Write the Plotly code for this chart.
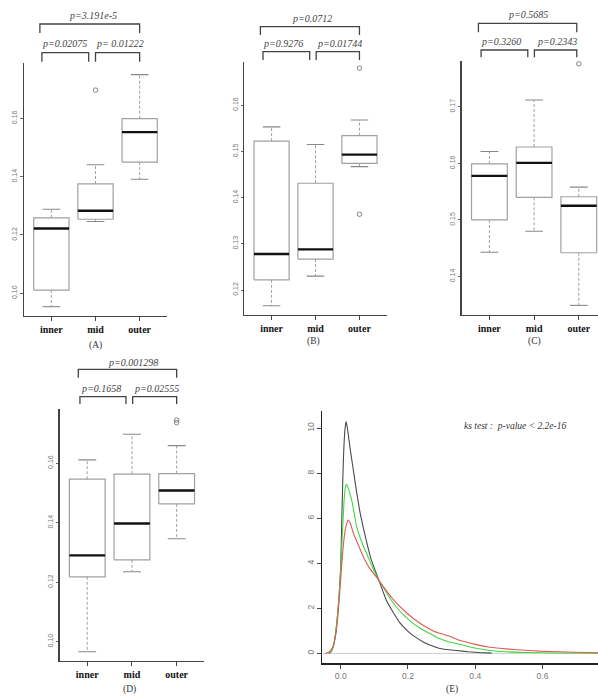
import plotly.graph_objects as go

W, H = 598, 698

categories = ["inner", "mid", "outer"]

# box statistics per panel: [lower whisker, Q1, median, Q3, upper whisker] for inner, mid, outer
A_stats = [[0.0954, 0.1011, 0.1222, 0.1259, 0.1288],
           [0.1246, 0.1254, 0.1283, 0.1375, 0.1441],
           [0.1391, 0.1450, 0.1553, 0.1599, 0.1750]]
A_out_x = [2]
A_out_y = [0.1697]

B_stats = [[0.1166, 0.1222, 0.1278, 0.1522, 0.1553],
           [0.1230, 0.1267, 0.1288, 0.1431, 0.1515],
           [0.1467, 0.1474, 0.1493, 0.1534, 0.1568]]
B_out_x = [3, 3]
B_out_y = [0.1364, 0.1680]

C_stats = [[0.1443, 0.1500, 0.1578, 0.1599, 0.1621],
           [0.1480, 0.1540, 0.1601, 0.1629, 0.1712],
           [0.1349, 0.1442, 0.1525, 0.1541, 0.1558]]
C_out_x = [3]
C_out_y = [0.1776]

D_stats = [[0.0966, 0.1218, 0.1290, 0.1546, 0.1611],
           [0.1235, 0.1275, 0.1397, 0.1563, 0.1697],
           [0.1346, 0.1463, 0.1508, 0.1565, 0.1659]]
D_out_x = [3, 3]
D_out_y = [0.1745, 0.1736]

# p-values: [inner-outer, inner-mid, mid-outer]
A_p = ["p=3.191e-5", "p=0.02075", "p= 0.01222"]
B_p = ["p=0.0712", "p=0.9276", "p=0.01744"]
C_p = ["p=0.5685", "p=0.3260", "p=0.2343"]
D_p = ["p=0.001298", "p=0.1658", "p=0.02555"]

# density curves (panel E)
black_x = [-0.035, -0.03, -0.022, -0.015, -0.01, -0.005, 0.0, 0.003, 0.006, 0.009, 0.013, 0.016,
           0.02, 0.028, 0.035, 0.047, 0.057, 0.067, 0.077, 0.09, 0.111, 0.136, 0.155, 0.175,
           0.2, 0.216, 0.244, 0.265, 0.295, 0.343, 0.38, 0.42, 0.449]
black_y = [0.0, 0.05, 0.3, 0.9, 1.6, 2.5, 3.8, 5.8, 7.6, 9.0, 10.0, 10.3,
           10.0, 9.1, 8.4, 7.2, 6.3, 5.6, 4.95, 4.2, 3.35, 2.35, 1.85, 1.38,
           0.98, 0.79, 0.52, 0.37, 0.22, 0.13, 0.07, 0.03, 0.01]

green_x = [-0.035, -0.03, -0.022, -0.015, -0.01, -0.005, 0.0, 0.004, 0.008, 0.011, 0.015, 0.018,
           0.022, 0.033, 0.0475, 0.065, 0.077, 0.095, 0.111, 0.13, 0.1465, 0.166, 0.186, 0.21,
           0.236, 0.26, 0.285, 0.32, 0.35, 0.394, 0.44, 0.493, 0.55, 0.64, 0.77]
green_y = [0.0, 0.05, 0.3, 0.9, 1.6, 2.5, 3.7, 5.0, 6.2, 7.0, 7.45, 7.5,
           7.35, 6.8, 5.63, 4.85, 4.44, 3.8, 3.3, 2.85, 2.45, 2.05, 1.72, 1.4,
           1.12, 0.92, 0.72, 0.52, 0.42, 0.25, 0.14, 0.07, 0.04, 0.015, 0.01]

red_x = [-0.045, -0.035, -0.025, -0.015, -0.01, -0.005, 0.0, 0.005, 0.01, 0.015, 0.022, 0.028,
         0.0375, 0.05, 0.067, 0.085, 0.111, 0.13, 0.156, 0.185, 0.216, 0.245, 0.275, 0.3,
         0.32, 0.354, 0.4, 0.444, 0.5, 0.55, 0.592, 0.65, 0.7, 0.77]
red_y = [0.0, 0.05, 0.25, 0.8, 1.4, 2.3, 3.3, 4.3, 5.1, 5.6, 5.92, 5.8,
         5.35, 4.9, 4.3, 3.8, 3.3, 2.9, 2.4, 1.95, 1.55, 1.25, 1.0, 0.87,
         0.78, 0.58, 0.4, 0.27, 0.19, 0.14, 0.1, 0.07, 0.05, 0.03]

ks_text = "ks test :  p-value < 2.2e-16"

SERIF = "Liberation Serif"
SANS = "Liberation Sans"

def py(p):
    return 1 - p / H

# panel layout: pixel domains, ranges, ticks, bracket geometry
panels = [
    dict(name="A", stats=A_stats, ox=A_out_x, oy=A_out_y, p=A_p,
         xd=(24, 167), yd=(63.3, 316), xr=(0.38, 3.62), yr=(0.0922, 0.1789),
         yt=[0.10, 0.12, 0.14, 0.16], ytt=["0.10", "0.12", "0.14", "0.16"],
         top=(0.74, 3.0, 24, 33), left=(0.786, 1.846, 52.7, 61.7), right=(2.0, 3.0, 52.7, 61.7),
         ptop=(1.94, 16), pl=(1.30, 43.3), pr=(2.56, 43.3), lab=(2.0, 345)),
    dict(name="B", stats=B_stats, ox=B_out_x, oy=B_out_y, p=B_p,
         xd=(244.3, 386.7), yd=(61.7, 315), xr=(0.38, 3.62), yr=(0.1146, 0.1694),
         yt=[0.12, 0.13, 0.14, 0.15, 0.16], ytt=["0.12", "0.13", "0.14", "0.15", "0.16"],
         top=(0.746, 3.0, 26.7, 35), left=(0.806, 1.868, 51.7, 60), right=(2.016, 3.0, 51.7, 60),
         ptop=(1.92, 18.3), pl=(1.27, 43.3), pr=(2.54, 43.3), lab=(1.95, 341.7)),
    dict(name="C", stats=C_stats, ox=C_out_x, oy=C_out_y, p=C_p,
         xd=(461.7, 598), yd=(61, 315), xr=(0.38, 3.43), yr=(0.1332, 0.1781),
         yt=[0.14, 0.15, 0.16, 0.17], ytt=["0.14", "0.15", "0.16", "0.17"],
         top=(0.754, 2.955, 23.3, 32.3), left=(0.814, 1.859, 50, 57.3), right=(2.007, 2.955, 50, 57.3),
         ptop=(1.86, 15), pl=(1.26, 41.7), pr=(2.51, 41.7), lab=(2.0, 341.7)),
    dict(name="D", stats=D_stats, ox=D_out_x, oy=D_out_y, p=D_p,
         xd=(59.5, 204.4), yd=(409.3, 660.7), xr=(0.38, 3.62), yr=(0.0936, 0.1781),
         yt=[0.10, 0.12, 0.14, 0.16], ytt=["0.10", "0.12", "0.14", "0.16"],
         top=(0.80, 3.0, 369.3, 377.7), left=(0.837, 1.866, 396.7, 404), right=(2.016, 3.0, 396.7, 404),
         ptop=(2.016, 362), pl=(1.30, 388.5), pr=(2.54, 388.5), lab=(1.95, None)),
]

fig = go.Figure()
shapes = []
annotations = []
layout_axes = {}

BOX_COL = "#a0a0a0"
AX_COL = "#444444"

for i, pn in enumerate(panels):
    n = i + 1
    xa = "x" if n == 1 else f"x{n}"
    ya = "y" if n == 1 else f"y{n}"
    rx, ry, wx, wy, cx, cy, mx, my = [], [], [], [], [], [], [], []
    for j, s in enumerate(pn["stats"]):
        lo, q1, med, q3, hi = s
        x = j + 1
        rx += [x - 0.4, x + 0.4, x + 0.4, x - 0.4, x - 0.4, None]
        ry += [q1, q1, q3, q3, q1, None]
        wx += [x, x, None, x, x, None]
        wy += [q3, hi, None, q1, lo, None]
        cx += [x - 0.2, x + 0.2, None, x - 0.2, x + 0.2, None]
        cy += [hi, hi, None, lo, lo, None]
        mx += [x - 0.4, x + 0.4, None]
        my += [med, med, None]
    fig.add_trace(go.Scatter(x=wx, y=wy, mode="lines", xaxis=xa, yaxis=ya,
                             line=dict(color=BOX_COL, width=1, dash="3px,2px"), hoverinfo="skip"))
    fig.add_trace(go.Scatter(x=cx, y=cy, mode="lines", xaxis=xa, yaxis=ya,
                             line=dict(color="#888888", width=1.1), hoverinfo="skip"))
    fig.add_trace(go.Scatter(x=rx, y=ry, mode="lines", xaxis=xa, yaxis=ya,
                             line=dict(color=BOX_COL, width=1.2), hoverinfo="skip"))
    fig.add_trace(go.Scatter(x=mx, y=my, mode="lines", xaxis=xa, yaxis=ya,
                             line=dict(color="#111111", width=2.4), hoverinfo="skip"))
    fig.add_trace(go.Scatter(x=pn["ox"], y=pn["oy"], mode="markers", xaxis=xa, yaxis=ya,
                             marker=dict(symbol="circle-open", size=4.5, color="#777777",
                                         line=dict(width=0.9)), hoverinfo="skip"))

    layout_axes["xaxis" if n == 1 else f"xaxis{n}"] = dict(
        domain=[pn["xd"][0] / W, min(pn["xd"][1] / W, 1.0)], range=list(pn["xr"]), anchor=ya,
        showline=True, linecolor=AX_COL, linewidth=1.3, ticks="outside", ticklen=4,
        tickcolor=AX_COL, tickwidth=1, tickvals=[1, 2, 3],
        ticktext=[f"<b>{c}</b>" for c in categories],
        tickfont=dict(family=SERIF, size=10, color="#111111"),
        showgrid=False, zeroline=False, fixedrange=True)
    layout_axes["yaxis" if n == 1 else f"yaxis{n}"] = dict(
        domain=[py(pn["yd"][1]), py(pn["yd"][0])], range=list(pn["yr"]), anchor=xa,
        showline=True, linecolor=AX_COL, linewidth=1.3, ticks="outside", ticklen=2.5,
        tickcolor="#666666", tickwidth=1, tickvals=pn["yt"], ticktext=pn["ytt"], tickangle=-90,
        tickfont=dict(family=SANS, size=7, color="#777777"),
        showgrid=False, zeroline=False, fixedrange=True)

    for key in ("top", "left", "right"):
        x0, x1, yb, yt = pn[key]
        shapes.append(dict(type="path", xref=xa, yref="paper",
                           path=f"M {x0},{py(yt)} L {x0},{py(yb)} L {x1},{py(yb)} L {x1},{py(yt)}",
                           line=dict(color="#444444", width=1.3)))
    for (xp, yp), txt in zip((pn["ptop"], pn["pl"], pn["pr"]), pn["p"]):
        annotations.append(dict(x=xp, y=py(yp), xref=xa, yref="paper", text=f"<i>{txt}</i>",
                                showarrow=False, xanchor="center", yanchor="middle",
                                font=dict(family=SERIF, size=10, color="#444444")))
    if pn["lab"][1] is None:
        annotations.append(dict(x=pn["lab"][0], y=0, xref=xa, yref="paper", yshift=1,
                                text=f"({pn['name']})", showarrow=False, xanchor="center",
                                yanchor="bottom", font=dict(family=SERIF, size=9.5, color="#333333")))
    else:
        annotations.append(dict(x=pn["lab"][0], y=py(pn["lab"][1]), xref=xa, yref="paper",
                                text=f"({pn['name']})", showarrow=False, xanchor="center",
                                yanchor="middle", font=dict(family=SERIF, size=9.5, color="#333333")))

# Panel E
fig.add_trace(go.Scatter(x=black_x, y=black_y, mode="lines", xaxis="x5", yaxis="y5",
                         line=dict(color="#4a4a4a", width=1.1, shape="spline", smoothing=0.4),
                         hoverinfo="skip"))
fig.add_trace(go.Scatter(x=green_x, y=green_y, mode="lines", xaxis="x5", yaxis="y5",
                         line=dict(color="#3fd83f", width=1.1, shape="spline", smoothing=0.4),
                         hoverinfo="skip"))
fig.add_trace(go.Scatter(x=red_x, y=red_y, mode="lines", xaxis="x5", yaxis="y5",
                         line=dict(color="#e05a5a", width=1.1, shape="spline", smoothing=0.4),
                         hoverinfo="skip"))
shapes.insert(0, dict(type="line", xref="x5 domain", yref="y5", x0=0, x1=1, y0=0, y1=0,
                      line=dict(color="#cccccc", width=1), layer="below"))

layout_axes["xaxis5"] = dict(
    domain=[322.3 / W, 1.0], range=[-0.0547, 0.765], anchor="y5",
    showline=True, linecolor="#222222", linewidth=1.3, ticks="outside", ticklen=4,
    tickcolor="#444444", tickvals=[0, 0.2, 0.4, 0.6], ticktext=["0.0", "0.2", "0.4", "0.6"],
    tickfont=dict(family=SANS, size=8.5, color="#777777"),
    showgrid=False, zeroline=False, fixedrange=True)
layout_axes["yaxis5"] = dict(
    domain=[py(663.3), py(410.7)], range=[-0.44, 10.78], anchor="x5",
    showline=True, linecolor="#222222", linewidth=1.3, ticks="outside", ticklen=4,
    tickcolor="#444444", tickvals=[0, 2, 4, 6, 8, 10], ticktext=["0", "2", "4", "6", "8", "10"],
    tickangle=-90, tickfont=dict(family=SANS, size=8.5, color="#777777"),
    showgrid=False, zeroline=False, fixedrange=True)

annotations.append(dict(x=0.518, y=10.1, xref="x5", yref="y5", text=f"<i>{ks_text}</i>",
                        showarrow=False, xanchor="center", yanchor="middle",
                        font=dict(family=SERIF, size=9.5, color="#333333")))
annotations.append(dict(x=0.33, y=0, xref="x5", yref="paper", yshift=1, text="(E)",
                        showarrow=False, xanchor="center", yanchor="bottom",
                        font=dict(family=SERIF, size=9.5, color="#333333")))

fig.update_layout(width=W, height=H, margin=dict(l=0, r=0, t=0, b=0),
                  paper_bgcolor="white", plot_bgcolor="white", showlegend=False,
                  hovermode=False,
                  shapes=shapes, annotations=annotations, **layout_axes)

fig.write_html("out.html",
               config={"displayModeBar": False, "staticPlot": True},
               post_script="document.body.style.margin='0px';document.body.style.padding='0px';"
                           "document.body.style.overflow='hidden';")
